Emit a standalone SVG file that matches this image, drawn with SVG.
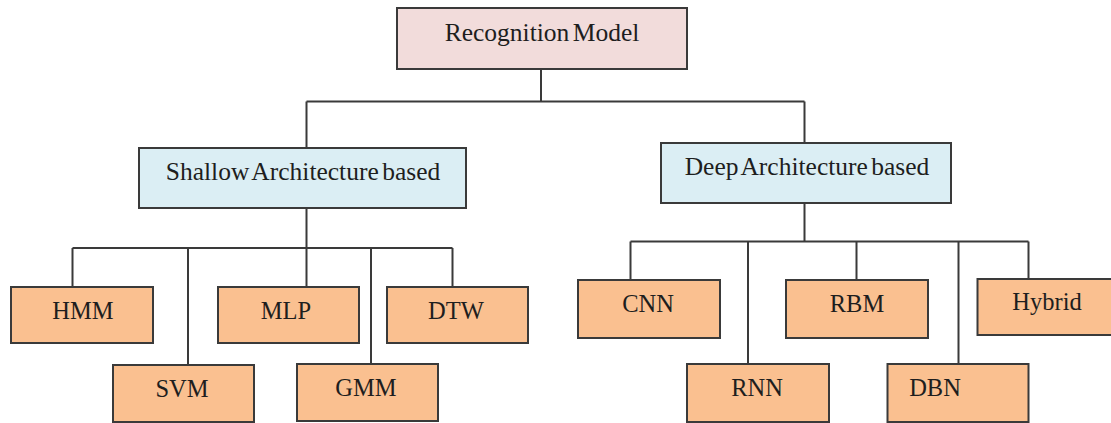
<svg xmlns="http://www.w3.org/2000/svg" width="1111" height="423" viewBox="0 0 1111 423">
  <style>
    .box { stroke: #3a3a3a; stroke-width: 2; }
    .root { fill: #f2dcdb; }
    .arch { fill: #dbeef4; }
    .leaf { fill: #fac090; }
    .lbl { font-family: "Liberation Serif", "Times New Roman", Times, serif; font-size: 24.5px; fill: #1e1e1e; text-anchor: middle; }
    .big { font-size: 25.5px; word-spacing: -3px; }
    .wire { fill: none; stroke: #3a3a3a; stroke-width: 2; }
  </style>
  <rect width="1111" height="423" fill="#ffffff"/>

  <!-- connectors -->
  <g id="connectors" class="wire">
    <path d="M541 69 V101.5 M306.5 101.5 H804.5 M306.5 101.5 V148 M804.5 101.5 V143"/>
    <path d="M306.5 208 V287 M72.5 248 H452.5 M72.5 248 V287 M188 248 V365 M371 248 V364 M452.5 248 V287"/>
    <path d="M804.5 203 V241.5 M630.5 241.5 H1028.5 M630.5 241.5 V280 M748 241.5 V364 M856.5 241.5 V280 M958.5 241.5 V364 M1028.5 241.5 V279"/>
  </g>

  <!-- top level -->
  <g id="recognition-model">
    <rect class="box root" x="397" y="8" width="290" height="61"/>
    <text class="lbl big" x="542" y="41">Recognition Model</text>
  </g>

  <!-- architecture families -->
  <g id="shallow-architecture">
    <rect class="box arch" x="139" y="148" width="327" height="60"/>
    <text class="lbl big" x="303" y="180">Shallow Architecture based</text>
  </g>
  <g id="deep-architecture">
    <rect class="box arch" x="661" y="143" width="290" height="60"/>
    <text class="lbl big" x="807" y="175">Deep Architecture based</text>
  </g>

  <!-- shallow models -->
  <g id="hmm">
    <rect class="box leaf" x="11" y="287" width="142" height="56"/>
    <text class="lbl" x="83" y="319">HMM</text>
  </g>
  <g id="mlp">
    <rect class="box leaf" x="218" y="287" width="141" height="56"/>
    <text class="lbl" x="286" y="319">MLP</text>
  </g>
  <g id="dtw">
    <rect class="box leaf" x="387" y="287" width="141" height="56"/>
    <text class="lbl" x="456" y="319">DTW</text>
  </g>
  <g id="svm">
    <rect class="box leaf" x="113" y="365" width="141" height="57"/>
    <text class="lbl" x="182" y="397">SVM</text>
  </g>
  <g id="gmm">
    <rect class="box leaf" x="297" y="364" width="141" height="57"/>
    <text class="lbl" x="366" y="396">GMM</text>
  </g>

  <!-- deep models -->
  <g id="cnn">
    <rect class="box leaf" x="578" y="280" width="142" height="58"/>
    <text class="lbl" x="648" y="312">CNN</text>
  </g>
  <g id="rbm">
    <rect class="box leaf" x="786" y="280" width="142" height="58"/>
    <text class="lbl" x="857" y="312">RBM</text>
  </g>
  <g id="hybrid">
    <rect class="box leaf" x="977.5" y="279" width="140" height="56"/>
    <text class="lbl" x="1047" y="310">Hybrid</text>
  </g>
  <g id="rnn">
    <rect class="box leaf" x="687" y="364" width="142" height="58"/>
    <text class="lbl" x="757" y="396">RNN</text>
  </g>
  <g id="dbn">
    <rect class="box leaf" x="887.5" y="364" width="141" height="58"/>
    <text class="lbl" x="935" y="396">DBN</text>
  </g>
</svg>
